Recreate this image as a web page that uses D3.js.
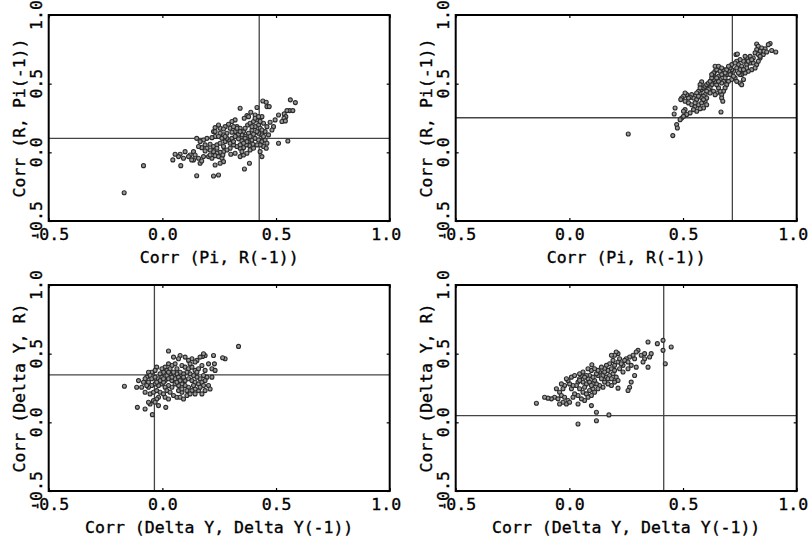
<!DOCTYPE html>
<html>
<head>
<meta charset="utf-8">
<script src="https://cdn.jsdelivr.net/npm/d3@7"></script>
<style>
  body { margin: 0; background: #fff; }
  text { font-family: "DejaVu Sans Mono", monospace; font-size: 16.5px; fill: #000; stroke: #000; stroke-width: 0.35px; }
</style>
</head>
<body>
<div id="chart"></div>
<script>
// axis ticks shared by all four panels
var tickValues = [-0.5, 0.0, 0.5, 1.0];
var tickLabels = ["-0.5", "0.0", "0.5", "1.0"];

var xTitles = ["Corr (Pi, R(-1))", "Corr (Pi, R(-1))", "Corr (Delta Y, Delta Y(-1))", "Corr (Delta Y, Delta Y(-1))"];
var yTitles = ["Corr (R, Pi(-1))", "Corr (R, Pi(-1))", "Corr (Delta Y, R)", "Corr (Delta Y, R)"];

// reference lines (vertical at refX, horizontal at refY)
var refX = [0.426, 0.717, -0.035, 0.415];
var refY = [0.102, 0.252, 0.346, 0.049];

// panel 1: Corr(Pi, R(-1)) vs Corr(R, Pi(-1))
var pts1 = [[0.563,0.382],[0.585,0.362],[0.560,0.304],[0.574,0.304],[0.548,0.304],[0.536,0.280],[0.543,0.260],[0.535,0.248],
  [0.526,0.224],[0.541,0.229],[0.511,0.272],[0.496,0.236],[0.489,0.187],[0.482,0.163],[0.460,0.333],[0.442,0.374],[0.457,0.365],
  [0.470,0.333],[0.416,0.326],[0.389,0.292],[0.408,0.272],[0.372,0.267],[0.360,0.248],[0.379,0.260],[0.342,0.321],[0.320,0.236],
  [0.306,0.224],[0.291,0.204],[0.276,0.187],[0.254,0.175],[0.232,0.180],[0.247,0.199],[0.269,0.170],[0.298,0.175],[0.328,0.187],
  [0.342,0.175],[0.357,0.151],[0.375,0.199],[0.386,0.212],[0.401,0.224],[0.416,0.236],[0.430,0.248],[0.438,0.260],[0.423,0.199],
  [0.408,0.187],[0.394,0.163],[0.430,0.175],[0.445,0.212],[0.460,0.187],[0.474,0.219],[0.452,0.151],[0.467,0.127],[0.438,0.127],
  [0.423,0.139],[0.401,0.132],[0.379,0.139],[0.364,0.115],[0.350,0.127],[0.335,0.132],[0.320,0.151],[0.306,0.146],[0.284,0.139],
  [0.269,0.127],[0.254,0.139],[0.232,0.115],[0.225,0.151],[0.218,0.107],[0.196,0.102],[0.181,0.090],[0.151,0.102],[0.166,0.078],
  [0.188,0.054],[0.210,0.059],[0.225,0.042],[0.240,0.054],[0.254,0.066],[0.276,0.078],[0.291,0.090],[0.306,0.102],[0.320,0.115],
  [0.335,0.098],[0.350,0.083],[0.364,0.102],[0.379,0.078],[0.394,0.090],[0.408,0.102],[0.423,0.090],[0.438,0.078],[0.452,0.090],
  [0.460,0.066],[0.445,0.042],[0.430,0.054],[0.416,0.054],[0.398,0.059],[0.383,0.049],[0.369,0.054],[0.357,0.034],[0.342,0.030],
  [0.328,0.042],[0.313,0.054],[0.298,0.030],[0.284,0.017],[0.269,0.005],[0.254,0.000],[0.240,-0.007],[0.225,0.005],[0.210,0.017],
  [0.196,0.030],[0.173,0.034],[0.159,0.042],[0.137,0.005],[0.122,-0.019],[0.100,0.005],[0.078,-0.014],[0.071,-0.031],[0.056,-0.014],
  [0.046,-0.055],[0.081,-0.097],[0.137,-0.055],[0.159,-0.043],[0.181,-0.031],[0.166,-0.080],[0.173,-0.063],[0.203,-0.031],
  [0.218,-0.043],[0.232,-0.024],[0.247,-0.031],[0.262,-0.043],[0.269,-0.068],[0.232,-0.092],[0.254,-0.080],[0.301,-0.014],
  [0.320,-0.007],[0.342,-0.031],[0.357,-0.019],[0.350,0.005],[0.372,-0.007],[0.386,0.017],[0.401,0.030],[0.430,0.005],[0.438,-0.031],
  [0.383,-0.080],[0.361,-0.121],[0.151,-0.170],[0.225,-0.172],[0.247,-0.165],[0.511,0.066],[0.552,0.083],[0.457,0.030],[0.284,0.102],
  [0.298,0.066],[0.269,0.042],[0.240,0.030],[0.313,0.078],[0.328,0.175],[0.342,0.151],[0.364,0.175],[0.313,0.187],[0.232,0.151],
  [0.247,0.115],[0.262,0.102],[0.276,0.115],[0.394,0.187],[0.408,0.248],[0.423,0.260],[0.430,0.224],[0.416,0.151],[0.386,0.115],
  [0.372,0.078],[0.357,0.066],[0.342,0.054],[0.438,0.163],[0.445,0.115],[0.266,-0.019],[0.210,-0.019],[0.188,0.010],[0.144,-0.019],
  [0.129,-0.055],[0.115,-0.031],[0.093,-0.043],[-0.168,-0.294],[-0.083,-0.097]];

// panel 2: Corr(Pi, R(-1)) vs Corr(R, Pi(-1)), second sample
var pts2 = [[0.883,0.792],[0.875,0.784],[0.824,0.789],[0.831,0.772],[0.846,0.760],[0.861,0.753],[0.890,0.741],[0.908,0.731],
  [0.839,0.736],[0.824,0.748],[0.817,0.724],[0.831,0.712],[0.839,0.687],[0.853,0.712],[0.809,0.687],[0.795,0.699],[0.780,0.687],
  [0.773,0.699],[0.766,0.663],[0.751,0.675],[0.736,0.663],[0.733,0.712],[0.739,0.716],[0.744,0.639],[0.758,0.627],[0.780,0.639],
  [0.795,0.651],[0.809,0.651],[0.824,0.639],[0.831,0.663],[0.802,0.602],[0.787,0.590],[0.773,0.578],[0.758,0.566],[0.766,0.530],
  [0.751,0.505],[0.758,0.493],[0.729,0.542],[0.722,0.590],[0.714,0.602],[0.707,0.614],[0.700,0.590],[0.692,0.566],[0.685,0.542],
  [0.678,0.517],[0.670,0.505],[0.663,0.530],[0.656,0.554],[0.641,0.590],[0.634,0.566],[0.648,0.602],[0.663,0.590],[0.678,0.602],
  [0.692,0.602],[0.707,0.566],[0.714,0.530],[0.700,0.517],[0.692,0.493],[0.685,0.469],[0.678,0.445],[0.670,0.420],[0.663,0.445],
  [0.656,0.469],[0.648,0.493],[0.641,0.517],[0.634,0.530],[0.626,0.493],[0.619,0.469],[0.612,0.457],[0.604,0.445],[0.597,0.420],
  [0.590,0.408],[0.582,0.396],[0.575,0.432],[0.582,0.457],[0.590,0.469],[0.597,0.481],[0.604,0.493],[0.612,0.505],[0.619,0.517],
  [0.626,0.542],[0.634,0.578],[0.582,0.513],[0.575,0.493],[0.568,0.445],[0.560,0.432],[0.553,0.408],[0.546,0.396],[0.538,0.420],
  [0.531,0.401],[0.524,0.396],[0.516,0.420],[0.509,0.432],[0.502,0.408],[0.494,0.396],[0.490,0.384],[0.509,0.372],[0.524,0.360],
  [0.538,0.347],[0.553,0.335],[0.568,0.347],[0.582,0.360],[0.597,0.372],[0.604,0.347],[0.590,0.323],[0.575,0.318],[0.560,0.299],
  [0.546,0.311],[0.531,0.287],[0.516,0.275],[0.509,0.311],[0.502,0.299],[0.494,0.250],[0.502,0.262],[0.487,0.238],[0.472,0.202],
  [0.475,0.177],[0.455,0.122],[0.465,0.323],[0.461,0.279],[0.667,0.294],[0.722,0.554],[0.736,0.614],[0.751,0.602],[0.780,0.614],
  [0.787,0.663],[0.802,0.675],[0.817,0.614],[0.839,0.699],[0.856,0.736],[0.868,0.731],[0.670,0.396],[0.675,0.372],[0.648,0.432],
  [0.634,0.445],[0.641,0.420],[0.619,0.432],[0.604,0.396],[0.590,0.384],[0.560,0.384],[0.553,0.360],[0.568,0.408],[0.575,0.469],
  [0.751,0.566],[0.736,0.517],[0.744,0.578],[0.766,0.602],[0.714,0.639],[0.729,0.651],[0.700,0.627],[0.685,0.578],[0.670,0.566],
  [0.656,0.517],[0.648,0.542],[0.626,0.566],[0.641,0.627],[0.656,0.627],[0.670,0.614],[0.259,0.134]];

// panel 3: Corr(Delta Y, Delta Y(-1)) vs Corr(Delta Y, R)
var pts3 = [[0.335,0.553],[0.276,0.463],[0.265,0.470],[0.225,0.487],[0.229,0.426],[0.218,0.390],[0.232,0.378],[0.203,0.426],
  [0.188,0.487],[0.177,0.480],[0.181,0.499],[0.166,0.475],[0.152,0.451],[0.144,0.439],[0.130,0.463],[0.115,0.451],[0.100,0.475],
  [0.078,0.487],[0.071,0.463],[0.049,0.475],[0.027,0.519],[0.056,0.426],[0.042,0.414],[0.027,0.426],[0.012,0.402],[0.020,0.378],
  [0.034,0.390],[0.064,0.390],[0.086,0.414],[0.100,0.402],[0.115,0.390],[0.130,0.402],[0.144,0.378],[0.159,0.390],[0.174,0.414],
  [0.188,0.378],[0.196,0.329],[0.181,0.341],[0.166,0.317],[0.152,0.329],[0.137,0.341],[0.122,0.353],[0.108,0.365],[0.093,0.353],
  [0.078,0.365],[0.064,0.353],[0.049,0.341],[0.034,0.353],[0.020,0.341],[0.005,0.365],[-0.002,0.390],[-0.010,0.353],[-0.025,0.402],
  [-0.032,0.378],[-0.047,0.365],[-0.061,0.365],[-0.054,0.341],[-0.069,0.329],[-0.076,0.317],[-0.083,0.292],[-0.061,0.292],
  [-0.047,0.317],[-0.032,0.329],[-0.017,0.317],[-0.002,0.329],[0.012,0.304],[0.027,0.317],[0.042,0.304],[0.056,0.317],[0.071,0.329],
  [0.086,0.317],[0.100,0.304],[0.115,0.317],[0.130,0.304],[0.144,0.292],[0.159,0.280],[0.174,0.292],[0.188,0.304],[0.203,0.268],
  [0.210,0.243],[0.188,0.231],[0.174,0.207],[0.159,0.231],[0.144,0.243],[0.130,0.231],[0.115,0.256],[0.100,0.268],[0.086,0.280],
  [0.071,0.268],[0.056,0.280],[0.042,0.256],[0.027,0.268],[0.012,0.256],[-0.002,0.280],[-0.017,0.268],[-0.032,0.280],[-0.047,0.268],
  [-0.061,0.256],[-0.076,0.219],[-0.054,0.207],[-0.039,0.219],[-0.025,0.231],[-0.010,0.219],[0.005,0.207],[0.020,0.231],[0.034,0.219],
  [0.049,0.195],[0.064,0.183],[0.078,0.183],[0.093,0.170],[0.108,0.195],[0.122,0.207],[0.144,0.207],[0.086,0.219],[0.071,0.231],
  [-0.017,0.183],[-0.025,0.170],[-0.039,0.158],[-0.054,0.134],[-0.061,0.146],[-0.032,0.146],[-0.105,0.304],[-0.113,0.256],
  [-0.167,0.263],[-0.110,0.109],[-0.076,0.097],[-0.044,0.056],[0.015,0.109],[-0.017,0.122],[-0.069,0.268],[-0.091,0.256],
  [0.012,0.183],[0.027,0.170],[0.086,0.243],[0.108,0.231],[0.152,0.365],[0.122,0.426],[0.218,0.329],[0.181,0.268],[0.166,0.256],
  [0.137,0.268],[0.005,0.292],[-0.010,0.304],[-0.025,0.292],[0.049,0.365],[0.064,0.292],[0.078,0.304],[0.093,0.329],[0.042,0.329],
  [0.027,0.365],[0.005,0.317]];

// panel 4: Corr(Delta Y, Delta Y(-1)) vs Corr(Delta Y, R), second sample
var pts4 = [[0.412,0.597],[0.387,0.573],[0.346,0.585],[0.412,0.524],[0.448,0.549],[0.422,0.427],[0.360,0.500],[0.353,0.476],
  [0.346,0.402],[0.331,0.463],[0.324,0.439],[0.302,0.524],[0.294,0.512],[0.287,0.463],[0.280,0.488],[0.265,0.476],[0.250,0.463],
  [0.243,0.451],[0.236,0.415],[0.258,0.390],[0.294,0.402],[0.287,0.341],[0.272,0.293],[0.265,0.256],[0.258,0.232],[0.236,0.366],
  [0.221,0.390],[0.214,0.500],[0.206,0.512],[0.199,0.488],[0.185,0.488],[0.192,0.451],[0.214,0.439],[0.199,0.415],[0.177,0.427],
  [0.163,0.415],[0.170,0.378],[0.185,0.390],[0.155,0.390],[0.141,0.402],[0.133,0.366],[0.126,0.341],[0.148,0.341],[0.163,0.329],
  [0.177,0.341],[0.192,0.354],[0.206,0.329],[0.214,0.305],[0.199,0.293],[0.185,0.268],[0.214,0.249],[0.170,0.280],[0.155,0.293],
  [0.148,0.256],[0.133,0.268],[0.119,0.280],[0.111,0.305],[0.104,0.329],[0.097,0.378],[0.099,0.419],[0.089,0.341],[0.082,0.317],
  [0.075,0.280],[0.067,0.256],[0.060,0.293],[0.053,0.341],[0.045,0.317],[0.038,0.293],[0.031,0.268],[0.045,0.244],[0.060,0.219],
  [0.075,0.207],[0.089,0.232],[0.104,0.244],[0.111,0.219],[0.097,0.195],[0.082,0.183],[0.067,0.159],[0.053,0.171],[0.038,0.195],
  [0.023,0.207],[0.009,0.244],[0.016,0.268],[0.001,0.280],[-0.006,0.305],[-0.013,0.317],[0.009,0.329],[0.023,0.341],[0.045,0.354],
  [0.060,0.366],[-0.021,0.268],[-0.035,0.280],[-0.028,0.244],[-0.043,0.219],[-0.057,0.244],[-0.065,0.183],[-0.050,0.171],
  [-0.035,0.195],[-0.021,0.183],[-0.006,0.159],[-0.013,0.134],[0.001,0.146],[-0.028,0.146],[-0.043,0.134],[-0.079,0.171],
  [-0.094,0.176],[-0.109,0.183],[-0.145,0.139],[0.016,0.183],[0.038,0.134],[0.097,0.122],[0.119,0.073],[0.174,0.054],[0.038,-0.012],
  [0.119,0.012],[0.045,0.305],[0.075,0.341],[0.089,0.293],[0.104,0.280],[0.119,0.354],[0.126,0.378],[0.141,0.317],[0.155,0.366],
  [0.170,0.317],[0.185,0.317],[0.111,0.390],[0.082,0.390],[0.067,0.329],[0.097,0.268],[0.126,0.244],[0.199,0.378],[0.221,0.463],
  [0.228,0.427],[0.258,0.439],[0.272,0.415],[0.316,0.488],[0.331,0.500]];

var allPts = [pts1, pts2, pts3, pts4];

var W = 809, H = 541;
var colLeft = [48.7, 455.7];
var rowTop = [15, 285];
var pw = 341, ph = 206;

var svg = d3.select("#chart").append("svg").attr("width", W).attr("height", H);
svg.append("rect").attr("width", W).attr("height", H).attr("fill", "#fff");

allPts.forEach(function (pts, i) {
    var left = colLeft[i % 2], top = rowTop[Math.floor(i / 2)];

    var x = d3.scaleLinear().domain([-0.5, 1.0]).range([0, pw]);
    var y = d3.scaleLinear().domain([-0.5, 1.0]).range([ph, 0]);

    var g = svg.append("g").attr("transform", "translate(" + left + "," + top + ")");

    // reference lines
    g.append("line")
        .attr("x1", x(refX[i])).attr("x2", x(refX[i]))
        .attr("y1", 0).attr("y2", ph)
        .attr("stroke", "#444").attr("stroke-width", 1.3);
    g.append("line")
        .attr("x1", 0).attr("x2", pw)
        .attr("y1", y(refY[i])).attr("y2", y(refY[i]))
        .attr("stroke", "#444").attr("stroke-width", 1.3);

    // points
    g.selectAll("circle.pt").data(pts).enter().append("circle")
        .attr("class", "pt")
        .attr("cx", function (d) { return x(d[0]); })
        .attr("cy", function (d) { return y(d[1]); })
        .attr("r", 2)
        .attr("fill", "#999")
        .attr("stroke", "#2a2a2a")
        .attr("stroke-width", 1.1);

    // inward ticks on all four sides
    var fmt = function (d) { return tickLabels[tickValues.indexOf(d)]; };
    var xb = g.append("g").attr("transform", "translate(0," + ph + ")")
        .call(d3.axisBottom(x).tickValues(tickValues).tickSize(-3).tickPadding(7).tickFormat(fmt));
    var xt = g.append("g")
        .call(d3.axisTop(x).tickValues(tickValues).tickSize(-3).tickFormat(""));
    var yl = g.append("g")
        .call(d3.axisLeft(y).tickValues(tickValues).tickSize(-3).tickFormat(""));
    var yr = g.append("g").attr("transform", "translate(" + pw + ",0)")
        .call(d3.axisRight(y).tickValues(tickValues).tickSize(-3).tickFormat(""));
    [xb, xt, yl, yr].forEach(function (a) {
        a.select(".domain").remove();
        a.selectAll("line").attr("stroke", "#000").attr("stroke-width", 1.2);
    });
    xb.selectAll("text").attr("font-family", null).attr("font-size", null).attr("fill", "#000")
        .attr("dx", function (d) { return d === 1.0 ? -4 : 0; });

    // rotated y tick labels
    g.selectAll("text.ylab").data(tickValues).enter().append("text")
        .attr("class", "ylab")
        .attr("text-anchor", "middle")
        .attr("transform", function (d) { return "translate(-7," + y(d) + ") rotate(-90)"; })
        .text(fmt);

    // frame
    g.append("rect").attr("width", pw).attr("height", ph)
        .attr("fill", "none").attr("stroke", "#000").attr("stroke-width", 2);

    // axis titles
    g.append("text")
        .attr("x", pw / 2).attr("y", ph + 42)
        .attr("text-anchor", "middle")
        .text(xTitles[i]);
    g.append("text")
        .attr("text-anchor", "middle")
        .attr("transform", "translate(-24," + (ph / 2) + ") rotate(-90)")
        .text(yTitles[i]);
});
</script>
</body>
</html>
